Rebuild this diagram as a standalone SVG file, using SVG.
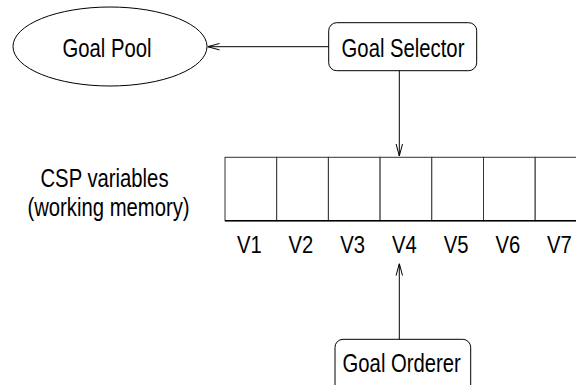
<svg xmlns="http://www.w3.org/2000/svg" width="576" height="385" viewBox="0 0 576 385">
  <defs>
    <style>
      .lbl { font-family: "Liberation Sans", Arial, sans-serif; font-size: 26px; fill: #000; text-anchor: middle; }
      .var { font-family: "Liberation Sans", Arial, sans-serif; font-size: 23px; fill: #000; text-anchor: middle; }
      .node { fill: #fff; stroke: #000; stroke-width: 1; }
      .cell { fill: #fff; stroke: #333; stroke-width: 1; }
      .edge { fill: none; stroke: #000; stroke-width: 1; }
    </style>
    <marker id="open" viewBox="0 0 12 8" refX="12" refY="4" markerWidth="12" markerHeight="8" markerUnits="userSpaceOnUse" orient="auto">
      <path d="M0,0.8 L12,4 L0,7.2" fill="none" stroke="#000" stroke-width="1"/>
    </marker>
  </defs>
  <rect width="576" height="385" fill="#fff"/>

  <g id="goal-pool">
    <ellipse class="node" cx="110" cy="46.5" rx="97" ry="39.5"/>
    <text class="lbl" transform="translate(107,56.5) scale(0.78,1)">Goal Pool</text>
  </g>

  <g id="goal-selector">
    <rect class="node" x="328.7" y="22.7" width="148" height="48" rx="8" ry="8"/>
    <text class="lbl" transform="translate(403,56.5) scale(0.78,1)">Goal Selector</text>
  </g>

  <g id="csp-label">
    <text class="lbl" transform="translate(104.5,186.5) scale(0.78,1)">CSP variables</text>
    <text class="lbl" transform="translate(108.5,216) scale(0.78,1)">(working memory)</text>
  </g>

  <g id="csp-variables">
    <rect class="cell" x="225" y="157.3" width="51.7" height="63.4"/>
    <rect class="cell" x="276.7" y="157.3" width="51.7" height="63.4"/>
    <rect class="cell" x="328.4" y="157.3" width="51.7" height="63.4"/>
    <rect class="cell" x="380.1" y="157.3" width="51.7" height="63.4"/>
    <rect class="cell" x="431.8" y="157.3" width="51.7" height="63.4"/>
    <rect class="cell" x="483.5" y="157.3" width="51.7" height="63.4"/>
    <rect class="cell" x="535.2" y="157.3" width="51.7" height="63.4"/>
    <line x1="225" y1="220.7" x2="576" y2="220.7" stroke="#000" stroke-width="1.5"/>
    <text class="var" transform="translate(249.3,253) scale(0.88,1)">V1</text>
    <text class="var" transform="translate(301,253) scale(0.88,1)">V2</text>
    <text class="var" transform="translate(352.7,253) scale(0.88,1)">V3</text>
    <text class="var" transform="translate(404.4,253) scale(0.88,1)">V4</text>
    <text class="var" transform="translate(456.1,253) scale(0.88,1)">V5</text>
    <text class="var" transform="translate(507.8,253) scale(0.88,1)">V6</text>
    <text class="var" transform="translate(559.5,253) scale(0.88,1)">V7</text>
  </g>

  <g id="goal-orderer">
    <rect class="node" x="335" y="339.3" width="135.7" height="60" rx="8" ry="8"/>
    <text class="lbl" transform="translate(401.7,371.5) scale(0.78,1)">Goal Orderer</text>
  </g>

  <g id="connectors">
    <line class="edge" x1="328.7" y1="46.7" x2="207.5" y2="46.7" marker-end="url(#open)"/>
    <line class="edge" x1="399.3" y1="70.7" x2="399.3" y2="156" marker-end="url(#open)"/>
    <line class="edge" x1="399.3" y1="339.3" x2="399.3" y2="263.5" marker-end="url(#open)"/>
  </g>
</svg>
